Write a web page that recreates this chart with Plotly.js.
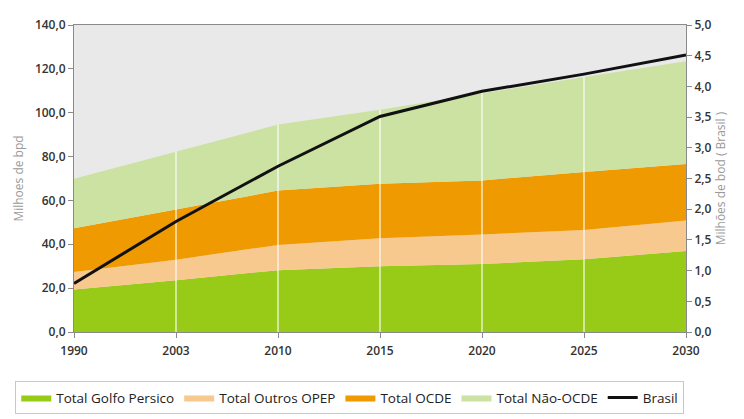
<!DOCTYPE html>
<html>
<head>
<meta charset="utf-8">
<script src="https://cdn.plot.ly/plotly-3.0.1.min.js"></script>
<style>
  html, body { margin: 0; padding: 0; background: #fff; }
  #chart { width: 744px; height: 419px; }
</style>
</head>
<body>
<div id="chart"></div>
<script>
const years = ['1990', '2003', '2010', '2015', '2020', '2025', '2030'];

// Milhoes de bpd (stacked)
const golfoPersico = [19.4, 23.6, 28.2, 30.0, 31.0, 33.2, 36.9];
const outrosOpep   = [8.0, 9.4, 11.5, 12.7, 13.5, 13.3, 13.9];
const ocde         = [19.9, 23.0, 24.8, 24.9, 24.6, 26.5, 25.8];
const naoOcde      = [22.6, 26.3, 30.1, 33.8, 39.9, 43.3, 46.9];

// Milhoes de bpd (Brasil), right axis
const brasil = [0.79, 1.8, 2.7, 3.51, 3.92, 4.2, 4.51];

const COLORS = {
    golfo: '#97cb17',
    outros: '#f8c98e',
    ocde: '#ef9a00',
    naoOcde: '#cbe2a2'
};

const tickFont = { family: 'Open Sans, sans-serif', size: 12, color: '#333', weight: 600 };
const titleFont = { family: 'Open Sans, sans-serif', size: 12, color: '#9a9a9a' };

function area(name, values, color) {
    return {
        x: years,
        y: values,
        name: name,
        type: 'scatter',
        mode: 'lines',
        stackgroup: 'one',
        line: { width: 0, color: color },
        fillcolor: color,
        hoverinfo: 'x+y+name'
    };
}

// white vertical separators, from zero up to the top of the stack
const totals = years.map((_, i) => golfoPersico[i] + outrosOpep[i] + ocde[i] + naoOcde[i]);
const gridX = [];
const gridY = [];
years.forEach((yr, i) => {
    if (i === 0 || i === years.length - 1) return;
    gridX.push(yr, yr, null);
    gridY.push(0, totals[i], null);
});

const traces = [
    area('Total Golfo Persico', golfoPersico, COLORS.golfo),
    area('Total Outros OPEP', outrosOpep, COLORS.outros),
    area('Total OCDE', ocde, COLORS.ocde),
    area('Total Não-OCDE', naoOcde, COLORS.naoOcde),
    {
        x: gridX,
        y: gridY,
        type: 'scatter',
        mode: 'lines',
        line: { color: 'rgba(255,255,255,0.75)', width: 1.5 },
        showlegend: false,
        hoverinfo: 'skip'
    },
    {
        x: years,
        y: brasil,
        name: 'Brasil',
        type: 'scatter',
        mode: 'lines',
        yaxis: 'y2',
        line: { color: '#111', width: 3 }
    }
];

const layout = {
    width: 744,
    height: 419,
    margin: { l: 74, r: 58, t: 25, b: 87, autoexpand: false },
    paper_bgcolor: '#fff',
    plot_bgcolor: '#e9e9e9',
    separators: ',.',
    showlegend: true,
    legend: {
        orientation: 'h',
        x: -0.096,
        xanchor: 'left',
        y: -0.16,
        yanchor: 'top',
        bordercolor: '#c8c8c8',
        borderwidth: 1,
        bgcolor: '#fff',
        font: { family: 'Open Sans, sans-serif', size: 13.5, color: '#222' },
        traceorder: 'normal'
    },
    xaxis: {
        type: 'category',
        range: [0, 6],
        showgrid: false,
        showline: true,
        linecolor: '#8a8a8a',
        linewidth: 1,
        mirror: true,
        ticks: 'outside',
        ticklen: 5,
        tickcolor: '#8a8a8a',
        tickfont: tickFont,
        ticklabelstandoff: 3,
        fixedrange: true
    },
    yaxis: {
        range: [0, 140],
        dtick: 20,
        tickformat: '.1f',
        showgrid: false,
        zeroline: false,
        showline: true,
        linecolor: '#8a8a8a',
        ticks: 'outside',
        ticklen: 5,
        tickcolor: '#8a8a8a',
        tickfont: tickFont,
        title: { text: 'Milhoes de bpd', font: titleFont, standoff: 8 }
    },
    yaxis2: {
        overlaying: 'y',
        side: 'right',
        range: [0, 5],
        dtick: 0.5,
        tickformat: '.1f',
        showgrid: false,
        zeroline: false,
        showline: true,
        linecolor: '#8a8a8a',
        ticks: 'outside',
        ticklen: 5,
        tickcolor: '#8a8a8a',
        tickfont: tickFont,
        title: { text: 'Milhões de bod ( Brasil )', font: titleFont, standoff: 6 }
    }
};

Plotly.newPlot('chart', traces, layout, { displayModeBar: false, staticPlot: true });
</script>
</body>
</html>
